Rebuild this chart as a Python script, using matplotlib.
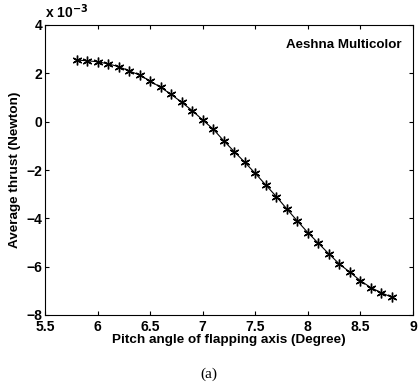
import matplotlib
matplotlib.use("Agg")
import matplotlib.pyplot as plt

pitch_angle = [5.8, 5.9, 6.0, 6.1, 6.2, 6.3, 6.4, 6.5, 6.6, 6.7, 6.8, 6.9, 7.0,
               7.1, 7.2, 7.3, 7.4, 7.5, 7.6, 7.7, 7.8, 7.9, 8.0, 8.1, 8.2, 8.3,
               8.4, 8.5, 8.6, 8.7, 8.8]
# thrust in units of 1e-3 N
thrust = [2.55, 2.52, 2.48, 2.39, 2.28, 2.10, 1.93, 1.68, 1.42, 1.13, 0.80, 0.46, 0.07,
          -0.31, -0.79, -1.24, -1.68, -2.14, -2.62, -3.10, -3.61, -4.11, -4.59, -5.03,
          -5.47, -5.89, -6.23, -6.58, -6.87, -7.08, -7.27]
xticks = [5.5, 6, 6.5, 7, 7.5, 8, 8.5, 9]
yticks = [-8, -6, -4, -2, 0, 2, 4]

plt.rcParams['font.family'] = ['Liberation Sans', 'DejaVu Sans']
fig = plt.figure(figsize=(4.18, 3.86), dpi=100)
ax = fig.add_axes([45/418, 1-315/386, 368/418, 290/386])
ax.plot(pitch_angle, thrust, color='black', lw=0.8, marker=(6, 2, 0),
        markersize=7, markeredgewidth=1.0)
ax.set_xlim(5.5, 9)
ax.set_ylim(-8, 4)
ax.set_xticks(xticks)
ax.set_xticklabels([f"{t:g}" for t in xticks])
ax.set_yticks(yticks)
ax.tick_params(direction='in', length=3, width=0.8, top=True, right=True,
               labelsize=10, pad=2)
ax.tick_params(axis='x', pad=3.5)
for lab in ax.get_xticklabels() + ax.get_yticklabels():
    lab.set_fontweight('bold')
for s in ax.spines.values():
    s.set_linewidth(0.8)
ax.set_xlabel('Pitch angle of flapping axis (Degree)', fontsize=9.7, fontweight='bold', labelpad=0)
ax.set_ylabel('Average thrust (Newton)', fontsize=9.7, fontweight='bold', labelpad=4)
ax.text(0.97, 0.93, 'Aeshna Multicolor', transform=ax.transAxes, ha='right', va='center',
        fontsize=9.6, fontweight='bold')
ax.text(0.0, 1.015, r'x 10$^{\mathbf{-3}}$', transform=ax.transAxes, ha='left', va='bottom',
        fontsize=10, fontweight='bold')
fig.text(0.5, 1-374/386, '(a)', ha='center', va='center', fontsize=11, family='Liberation Serif')
fig.savefig('out.png', dpi=100)
